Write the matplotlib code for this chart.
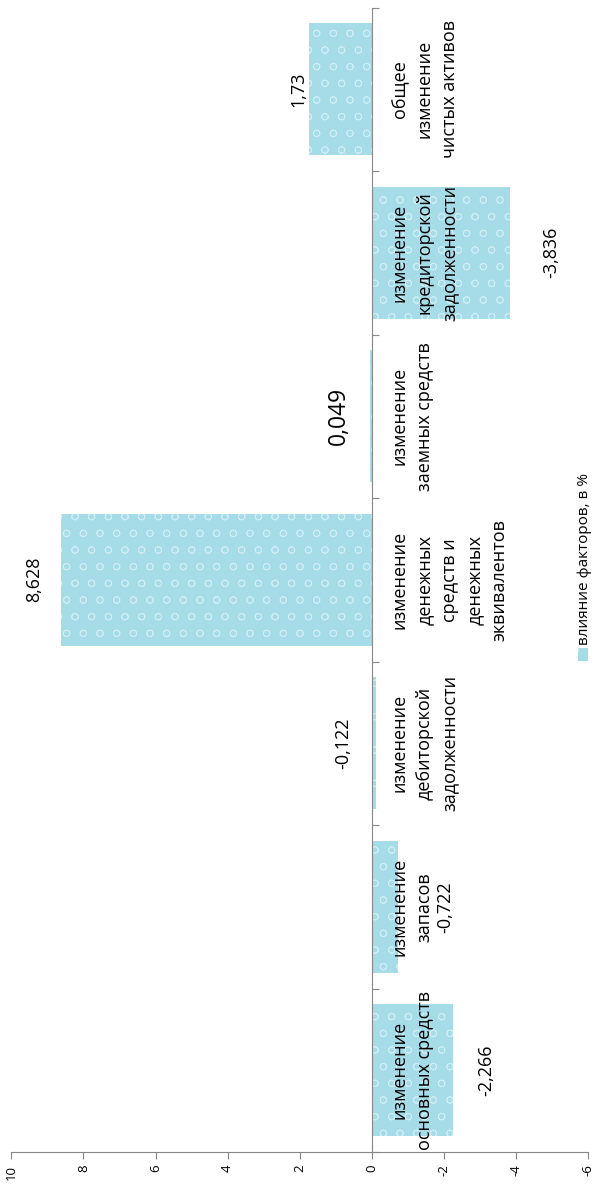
import matplotlib.pyplot as plt
import matplotlib.transforms as mtransforms
from matplotlib.patches import Rectangle

plt.rcParams['font.family'] = ['Open Sans', 'DejaVu Sans']
plt.rcParams['hatch.linewidth'] = 0.6

# data (bottom to top after rotation)
categories = ['изменение\nосновных средств',
              'изменение\nзапасов',
              'изменение\nдебиторской\nзадолженности',
              'изменение\nденежных\nсредств и\nденежных\nэквивалентов',
              'изменение\nзаемных средств',
              'изменение\nкредиторской\nзадолженности',
              'общее\nизменение\nчистых активов']
values = [-2.266, -0.722, -0.122, 8.628, 0.049, -3.836, 1.73]
series_name = 'влияние факторов, в %'
value_ticks = [10, 8, 6, 4, 2, 0, -2, -4, -6]

# where the (manually moved) data labels sit, in value units
label_x = [-3.17, -2.03, 0.78, 9.36, 0.92, -4.97, 2.03]
label_size = [13, 13, 13, 13, 16.5, 13, 13]

W, H = 596, 1189
fig = plt.figure(figsize=(W / 100, H / 100), dpi=100)
ax = fig.add_axes([11.4 / W, 1 - 1152 / H, (588 - 11.4) / W, (1152 - 7.5) / H])

bar_col = '#a6dbe8'
pos = list(range(len(values)))
ax.barh(pos, values, height=0.81, color=bar_col, edgecolor='#cdeef5',
        linewidth=0, hatch='o', zorder=2)

ax.set_xlim(10, -6)
ax.set_ylim(-0.5, len(values) - 0.5)

grey = '#868686'
for s in ['top', 'right']:
    ax.spines[s].set_visible(False)
ax.spines['bottom'].set_color(grey)
ax.spines['left'].set_color(grey)
ax.spines['left'].set_position(('data', 0))
ax.spines['left'].set_zorder(3)

ax.set_xticks(value_ticks)
ax.set_xticklabels([str(t) for t in value_ticks], rotation=90, fontsize=9.5)
ax.tick_params(axis='x', direction='out', length=5, color=grey, pad=4)

ax.set_yticks([p - 0.5 for p in pos] + [len(values) - 0.5])
ax.set_yticklabels([])
ax.tick_params(axis='y', direction='in', length=5, color=grey)

# category labels next to the axis line
off = mtransforms.ScaledTranslation(19 / 100, 0, fig.dpi_scale_trans)
for p, c in zip(pos, categories):
    ax.text(0, p, c, rotation=90, ha='left', va='center', ma='center',
            fontsize=13, linespacing=1.5, transform=ax.transData + off,
            zorder=4)

# data labels
for p, v, lx, fs in zip(pos, values, label_x, label_size):
    txt = f'{v:g}'.replace('.', ',')
    ax.text(lx, p, txt, rotation=90, ha='center', va='center', fontsize=fs,
            zorder=4)

# legend
fig.patches.append(Rectangle((578 / W, 1 - 661 / H), 10 / W, 13 / H,
                             transform=fig.transFigure, facecolor=bar_col,
                             edgecolor='#cdeef5', hatch='o', linewidth=0))
fig.text(584 / W, 1 - 645 / H, series_name, rotation=90, ha='center',
         va='bottom', fontsize=11)

fig.savefig('out.png', dpi=100)
